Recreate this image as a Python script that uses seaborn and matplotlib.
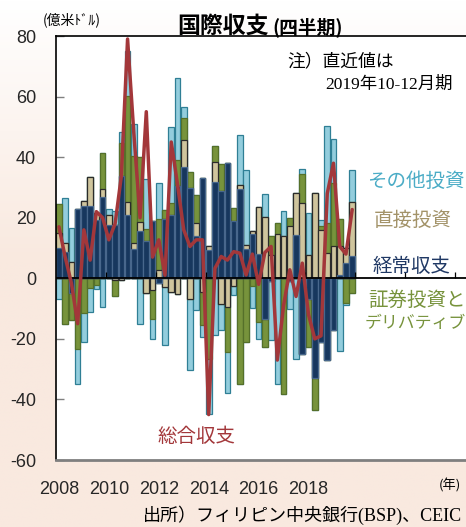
import numpy as np
import pandas as pd
import matplotlib
matplotlib.use("Agg")
import matplotlib.pyplot as plt
import seaborn as sns

# ---------------- data (US$ 100 million, quarterly) ----------------
quarters = [f"{y}Q{q}" for y in range(2008, 2020) for q in range(1, 5)]

current = [10, 8.8, -5, 23, 23.8, 24, 19.3, 27, 17.7, 17.7, 33.7, 21,
           9.6, 15.5, 12.2, 19, -1.7, 19.6, 21, 30.4, 36.8, 29.8, 14, 33,
           9.2, 31.8, 28.7, 38, 19, 29.5, 9.6, 14.6, 8, -13.3, -1, 0,
           0, -1, 14.4, -24.9, -7, -33, -21, -27, -17, 1.1, 5, 7.5]
fdi = [5, 2.8, 5.5, 0, 1.7, 9.6, 2.4, 2.4, 3.3, -0.5, -0.5, 4.2,
       2.2, 3, -5, -3.9, 2.8, -2.8, -4.4, -5.3, 8.7, -7, 4.2, -4.4,
       1.3, 6.6, -8.6, -9.6, -2.5, 1.4, 1.4, 0.9, 15.4, 20.4, 7.7, 14.7,
       13.8, 17.3, 13.8, 24.9, 7.7, 28, 16, 8.3, 10.5, 9.4, 5, 17.8]
portfolio = [9.4, -15.2, -8.8, -23.5, -11.6, -3.3, -2.2, 11.9, 0, -5.3, 11, 35,
             28.5, 21.7, 4.2, -9.4, 16.8, 2.9, 3.9, 8.6, 7.5, 5.3, 9.4, -11,
             -26.5, 5.4, 9, -14.7, 4.3, -35, -21.2, -2.5, -14.4, -9.4, 6.1, 3.7,
             -38.3, 2.5, 0, 9.4, -15.7, -10.5, 1.3, 10, 21, 9.1, -8.3, -5]
other = [-7, 14.9, 11, -11.3, -9.4, -7.7, -1.4, -9.6, 2, 4.4, 3.6, 14.7,
         10.7, -15.2, 16.4, -6.6, 11.9, -19.3, 24.9, 27, 3.6, -23.2, -10.5, -4,
         -18.2, -18.8, -8.5, -13.6, -3, 16.4, 24.9, -7.4, -5.7, 7.4, -19.3, -34.8,
         8.3, -9, -26.5, 1.9, 13.8, 0, 1.8, 32, 14.6, -24, -0.5, 10.5]
overall = [17, 7, -1.6, -15, 16, 6, 22, 20, 12.7, 18, 33.7, 79,
           48, 20, 55, 7, 12.7, 1, 45, 31, 16, 10.5, 12.7, 12.7,
           -45, 3.3, 7.2, 6, 8.8, 8.3, 1.1, 8, -2, 8.5, 10.5, -27,
           -9, 2.8, -6, 5, -12, -20, -19, 28, 38, 10.5, 8, 22.7]

year_labels = ["2008", "2010", "2012", "2014", "2016", "2018"]
y_ticks = [-60, -40, -20, 0, 20, 40, 60, 80]

# ---------------- style ----------------
sns.set_theme(style="white")
plt.rcParams['font.family'] = ['Noto Sans CJK JP', 'DejaVu Sans']

W, H = 466, 527
fig = plt.figure(figsize=(W / 100, H / 100), dpi=100)

def fx(px):
    return px / W

def fy(py):
    return 1 - py / H

# background gradient (white at top to peach)
bg = fig.add_axes([0, 0, 1, 1], zorder=-10)
rows = np.linspace(0, 1, 200)[:, None]
t = np.clip(rows * H / 260.0, 0, 1)
white = np.array([1.0, 1.0, 1.0])
peach = np.array([249, 233, 223]) / 255.0
grad = (white[None, None, :] * (1 - t[..., None]) + peach[None, None, :] * t[..., None])
grad = np.repeat(grad, 2, axis=1)
bg.imshow(grad, aspect='auto', extent=[0, 1, 0, 1], origin='upper')
bg.axis('off')

left_px, top_px, bot_px = 55.5, 36, 460
ax = fig.add_axes([fx(left_px), fy(bot_px), 1 - fx(left_px), (bot_px - top_px) / H])
ax.set_facecolor('white')

comps = [
    (current, "#17375e", "#48678c"),
    (fdi, "#cfc59d", "#2b2b2b"),
    (portfolio, "#77933c", "#55702a"),
    (other, "#93cddd", "#2f7f95"),
]

n = len(quarters)
pos_cum = np.zeros(n)
neg_cum = np.zeros(n)
layers = []
for vals, fc, ec in comps:
    v = np.asarray(vals, dtype=float)
    pos_cum = pos_cum + np.clip(v, 0, None)
    neg_cum = neg_cum + np.clip(v, None, 0)
    layers.append((pos_cum.copy(), neg_cum.copy(), fc, ec))

for pos, neg, fc, ec in reversed(layers):
    for h in (pos, neg):
        sns.barplot(x=quarters, y=h, order=quarters, color=fc, edgecolor=ec,
                    linewidth=0.9, width=0.9, errorbar=None, saturation=1, ax=ax)

ax.axhline(0, color='black', lw=1.3, zorder=4)
ax.vlines(np.arange(7.5, 66, 8), 0, 2.2, color='black', lw=0.9, zorder=4)

sns.lineplot(x=np.arange(n), y=overall, color="#a3373a", lw=2.5, ax=ax, zorder=6)

ax.set_xlim(-0.55, -0.55 + (W - left_px) / 6.24)
ax.set_ylim(-60, 80)
ax.set_yticks(y_ticks)
ax.set_yticklabels([str(v) for v in y_ticks], fontfamily='Liberation Sans', fontsize=13)
year_pos = [quarters.index(f"{y}Q1") for y in year_labels]
ax.set_xticks(year_pos)
ax.set_xticklabels(year_labels, fontfamily='Liberation Sans', fontsize=13)
ax.tick_params(axis='y', direction='in', length=6, width=1, color='#808080', pad=14, left=True)
ax.tick_params(axis='x', length=0, pad=15)
ax.set_xlabel("")
ax.set_ylabel("")

for s in ['left', 'top']:
    ax.spines[s].set_color('black')
    ax.spines[s].set_linewidth(1.2)
ax.spines['bottom'].set_color('#7f7f7f')
ax.spines['bottom'].set_linewidth(2)
ax.spines['right'].set_visible(False)

# ---------------- texts ----------------
fig.text(fx(269), fy(33), "国際収支", ha='right', va='baseline', fontsize=16.5,
         fontweight='bold', color='black')
fig.text(fx(272), fy(33), "(四半期)", ha='left', va='baseline', fontsize=13.5,
         fontweight='bold', color='black')
fig.text(fx(72), fy(20), "(億米ﾄﾞﾙ)", ha='center', va='center', fontsize=10, color='black')

fig.text(fx(287), fy(61), "注）直近値は", ha='left', va='center', fontsize=12.8, color='black')
fig.text(fx(325), fy(85), "2019年10-12月期", ha='left', va='center', fontsize=12.5,
         family=['Liberation Serif', 'Noto Sans CJK JP'], color='black')

fig.text(fx(367), fy(181), "その他投資", ha='left', va='center', fontsize=14, color='#4bacc6')
fig.text(fx(374), fy(220), "直接投資", ha='left', va='center', fontsize=14, color='#a39369')
fig.text(fx(373), fy(266), "経常収支", ha='left', va='center', fontsize=14, color='#1f3864')
fig.text(fx(368), fy(300), "証券投資と", ha='left', va='center', fontsize=14, color='#77933c')
fig.text(fx(365), fy(323), "デリバティブ", ha='left', va='center', fontsize=12.2, color='#77933c')
fig.text(fx(157), fy(437), "総合収支", ha='left', va='center', fontsize=14, color='#a3373a')

fig.text(fx(450), fy(486), "(年)", ha='center', va='center', fontsize=9.5, color='black')
fig.text(fx(462), fy(515), "出所）フィリピン中央銀行(BSP)、CEIC", ha='right', va='center',
         fontsize=13, family=['Liberation Serif', 'Noto Sans CJK JP'], color='black')

fig.savefig("out.png", dpi=100)
